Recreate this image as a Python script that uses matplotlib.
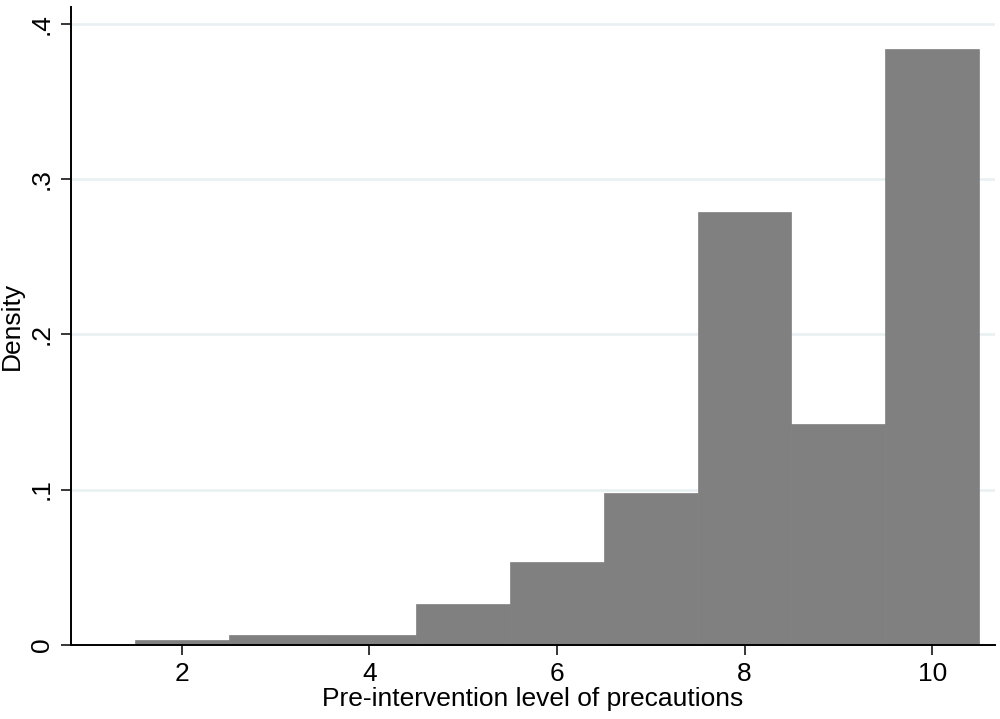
import matplotlib.pyplot as plt

plt.rcParams['font.family'] = ['Liberation Sans', 'DejaVu Sans']

# Histogram: one bin per precaution level, unit width
levels = [2, 3, 4, 5, 6, 7, 8, 9, 10]
density = [0.003, 0.006, 0.006, 0.026, 0.053, 0.098, 0.279, 0.142, 0.384]
xticks = [2, 4, 6, 8, 10]
yticks = [0, 0.1, 0.2, 0.3, 0.4]
ytick_labels = ['0', '.1', '.2', '.3', '.4']

fig = plt.figure(figsize=(10, 7.19), dpi=100)
ax = fig.add_axes([0.071, 0.1033, 0.924, 0.887])

ax.bar(levels, density, width=1.0, align='center', color='#808080',
       edgecolor='#808080', linewidth=0.5, zorder=2)

ax.set_xlim(0.82, 10.67)
ax.set_ylim(0, 0.411)

ax.set_yticks(yticks)
ax.set_yticklabels(ytick_labels, rotation=90, va='center')
ax.set_xticks(xticks)
ax.yaxis.grid(True, color='#e8f0f2', linewidth=1.8, zorder=0)
ax.set_axisbelow(True)

for side in ['top', 'right']:
    ax.spines[side].set_visible(False)
for side in ['left', 'bottom']:
    ax.spines[side].set_linewidth(1.4)
    ax.spines[side].set_color('black')
    ax.spines[side].set_zorder(3)

ax.tick_params(axis='both', direction='out', length=7.5, width=1.1,
               labelsize=19, pad=5)

ax.set_ylabel('Density', fontsize=19, labelpad=4)
ax.set_xlabel('Pre-intervention level of precautions', fontsize=19, labelpad=1)

fig.savefig('out.png', dpi=100)
